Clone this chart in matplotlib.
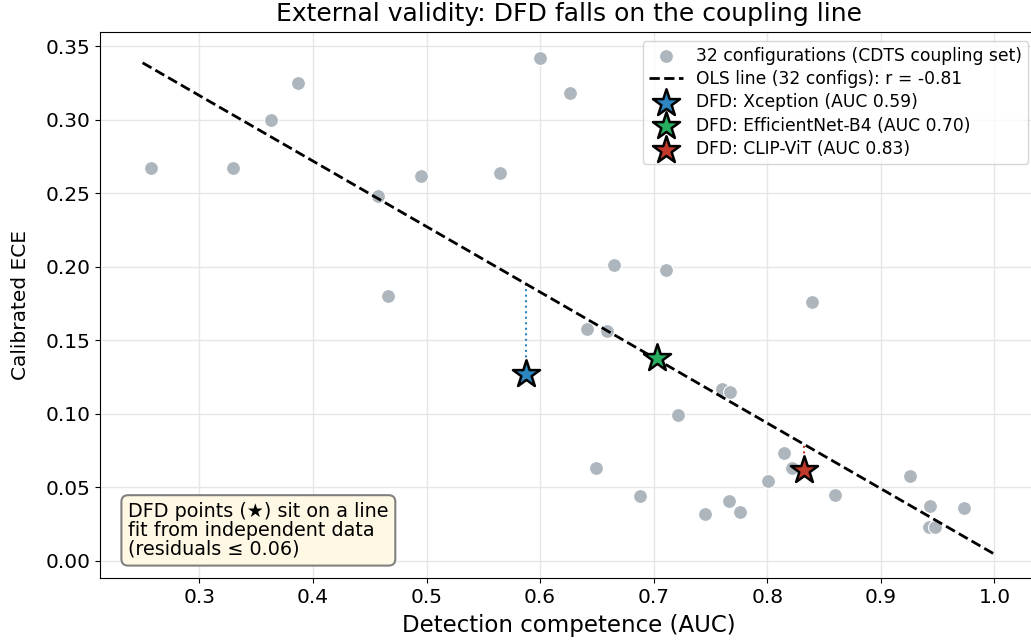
import numpy as np
import matplotlib.pyplot as plt

# 32 configurations (CDTS coupling set)
auc = [0.257, 0.330, 0.363, 0.387, 0.457, 0.495, 0.565, 0.600,
       0.626, 0.466, 0.665, 0.711, 0.839, 0.641, 0.659, 0.760,
       0.767, 0.721, 0.649, 0.688, 0.745, 0.766, 0.776, 0.801,
       0.815, 0.822, 0.860, 0.926, 0.943, 0.942, 0.948, 0.973]
ece = [0.267, 0.267, 0.300, 0.325, 0.248, 0.262, 0.264, 0.342,
       0.318, 0.180, 0.201, 0.198, 0.176, 0.158, 0.156, 0.117,
       0.115, 0.099, 0.063, 0.044, 0.032, 0.041, 0.033, 0.054,
       0.073, 0.063, 0.045, 0.058, 0.037, 0.023, 0.023, 0.036]

# DFD detectors
dfd_names = ["Xception", "EfficientNet-B4", "CLIP-ViT"]
dfd_auc = [0.588, 0.703, 0.832]
dfd_ece = [0.127, 0.138, 0.062]
dfd_colors = ["#2e86c1", "#27ae60", "#c0392b"]

line_x = [0.25, 1.0]

# OLS fit on the 32 configurations
slope, intercept = np.polyfit(auc, ece, 1)

fig = plt.figure(figsize=(10.31, 6.4), dpi=100)
ax = fig.add_axes([100 / 1031, 62 / 640, 937 / 1031, 546 / 640])

ax.scatter(auc, ece, s=100, color="#adb5bd", edgecolor="white", linewidth=0.8,
           zorder=3, label="32 configurations (CDTS coupling set)")
lx = np.array(line_x)
ax.plot(lx, intercept + slope * lx, "k--", lw=2, zorder=4,
        label="OLS line (32 configs): r = -0.81")

for name, x, y, c in zip(dfd_names, dfd_auc, dfd_ece, dfd_colors):
    y_fit = intercept + slope * x
    ax.plot([x, x], [y, y_fit], ":", color=c, lw=1.5, zorder=2)
    ax.scatter([x], [y], marker="*", s=420, color=c, edgecolor="black",
               linewidth=1.8, zorder=5, label=f"DFD: {name} (AUC {x:.2f})")

ax.set_xlim(0.2125, 1.0375)
ax.set_ylim(-0.0117, 0.3597)
ax.set_xticks([0.3, 0.4, 0.5, 0.6, 0.7, 0.8, 0.9, 1.0])
ax.set_yticks([0.00, 0.05, 0.10, 0.15, 0.20, 0.25, 0.30, 0.35])
ax.tick_params(labelsize=14.5)
ax.spines["right"].set_visible(False)
ax.grid(True, color="#e6e6e6", lw=1)
ax.set_axisbelow(True)
ax.set_xlabel("Detection competence (AUC)", fontsize=16.5, labelpad=5)
ax.set_ylabel("Calibrated ECE", fontsize=14.5, labelpad=11)
ax.set_title("External validity: DFD falls on the coupling line", fontsize=18, pad=8)

ax.legend(loc="upper right", fontsize=12.3, handletextpad=0.8,
          borderpad=0.35, labelspacing=0.32)
ax.text(0.03, 0.035, "DFD points (\u2605) sit on a line\nfit from independent data\n(residuals \u2264 0.06)",
        transform=ax.transAxes, fontsize=13.8, va="bottom", ha="left", linespacing=1.0,
        bbox=dict(boxstyle="round,pad=0.35", facecolor="#fff8e5", edgecolor="gray", lw=1.5))

fig.savefig("out.png", dpi=100)
